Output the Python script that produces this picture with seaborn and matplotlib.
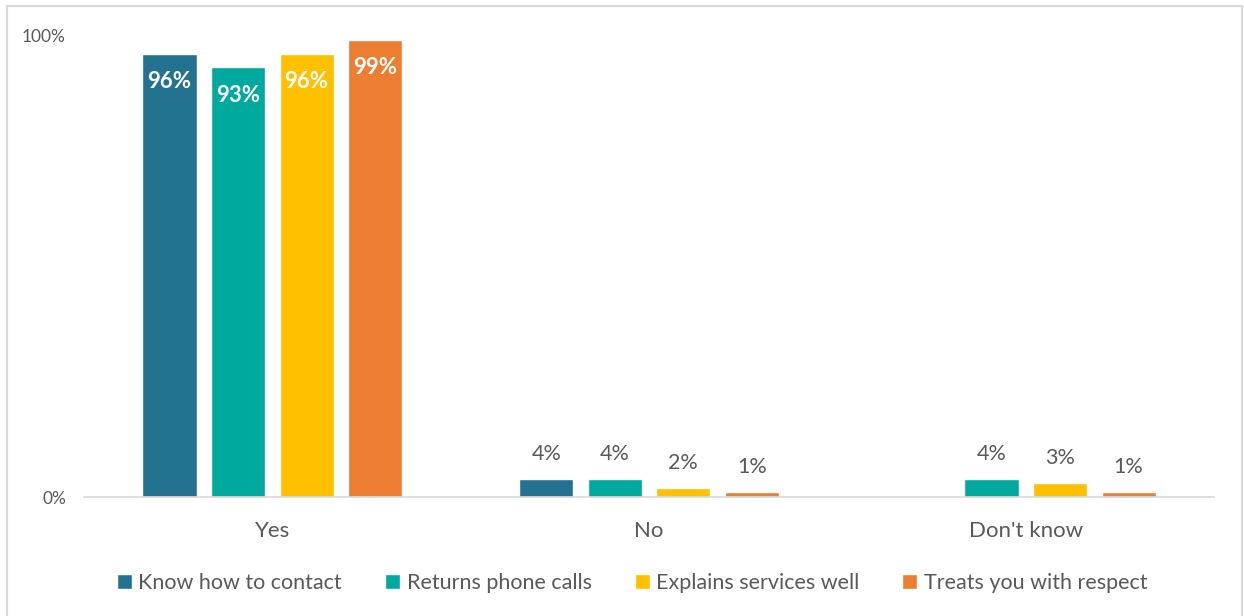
import numpy as np
import pandas as pd
import seaborn as sns
import matplotlib.pyplot as plt
from matplotlib.patches import Rectangle

# Survey responses (% of respondents)
categories = ["Yes", "No", "Don't know"]
series = ["Know how to contact", "Returns phone calls",
          "Explains services well", "Treats you with respect"]
know_contact = [96, 4, np.nan]
returns_calls = [93, 4, 4]
explains_well = [96, 2, 3]
treats_respect = [99, 1, 1]
colors = ["#23728F", "#00A99D", "#FFC000", "#ED7D31"]

rows = []
for name, vals in zip(series, [know_contact, returns_calls, explains_well, treats_respect]):
    for cat, v in zip(categories, vals):
        if not np.isnan(v):
            rows.append({"category": cat, "series": name, "value": v})
df = pd.DataFrame(rows)

sns.set_theme(style="white")
plt.rcParams["font.family"] = ["Lato", "DejaVu Sans"]
text_color = "#595959"

fig = plt.figure(figsize=(12.44, 6.16), dpi=100)
ax = fig.add_axes([0.0675, 0.193, 0.9085, 0.75])

sns.barplot(data=df, x="category", y="value", hue="series",
            order=categories, hue_order=series, palette=colors,
            width=0.728, gap=0.21, saturation=1, ax=ax, legend=True)

ax.set_xlim(-0.5, 2.5)
ax.set_ylim(0, 100)
ax.set_yticks([0, 100])
ax.set_yticklabels(["0%", "100%"], fontsize=12.5, color=text_color)
ax.tick_params(axis="y", length=0, pad=13)
ax.tick_params(axis="x", length=0, pad=17, labelsize=16, labelcolor=text_color)
ax.set_xlabel("")
ax.set_ylabel("")
for side in ["top", "right", "left"]:
    ax.spines[side].set_visible(False)
ax.spines["bottom"].set_color("#D9D9D9")
ax.spines["bottom"].set_linewidth(1.2)

# Value labels: inside the tall bars, above the short ones
for container in ax.containers:
    for bar in container:
        h = bar.get_height()
        if np.isnan(h):
            continue
        x = bar.get_x() + bar.get_width() / 2
        if h > 50:
            ax.annotate(f"{h:.0f}%", (x, h), xytext=(0, -20), textcoords="offset points",
                        ha="center", va="center", fontsize=16, fontweight="bold",
                        color="white")
        else:
            ax.annotate(f"{h:.0f}%", (x, h), xytext=(0, 18), textcoords="offset points",
                        ha="center", va="center", fontsize=15.5, color=text_color)

leg = ax.legend(loc="center", bbox_to_anchor=(0.485, -0.185), ncol=4, frameon=False,
                fontsize=15.5, handlelength=0.7, handleheight=0.7, handletextpad=0.3,
                columnspacing=2.0)
for t in leg.get_texts():
    t.set_color(text_color)

# Chart border
fig.patches.append(Rectangle((7 / 1244, -0.01), 1235 / 1244, 1 - 6 / 616 + 0.01,
                             transform=fig.transFigure, fill=False,
                             edgecolor="#D9D9D9", linewidth=1.5))

fig.savefig("out.png", dpi=100, facecolor="white")
